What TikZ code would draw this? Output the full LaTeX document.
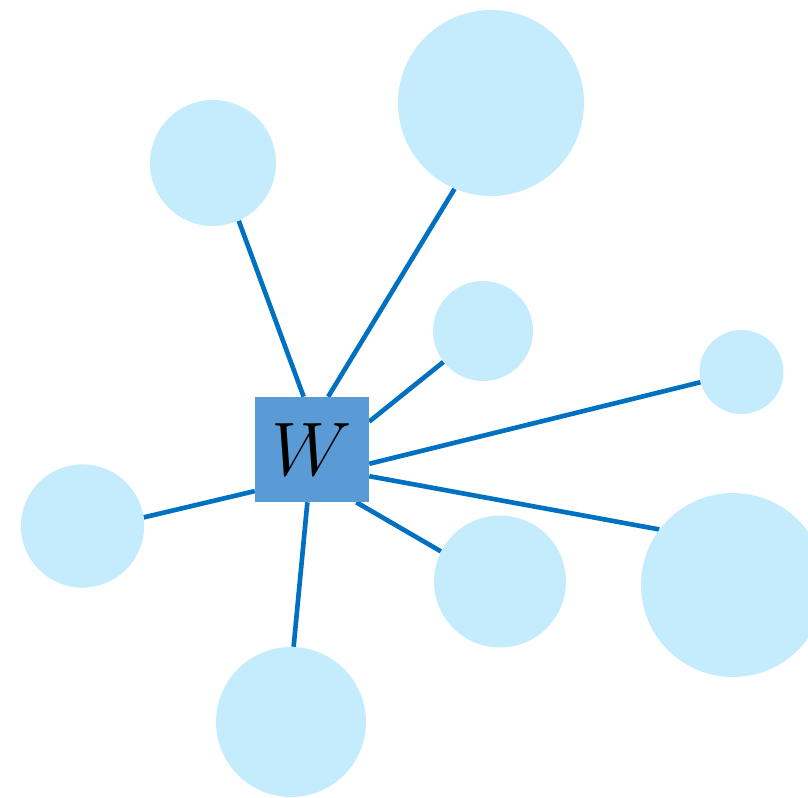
\RequirePackage{fix-cm}
\documentclass[tikz,border=0pt]{standalone}
\usetikzlibrary{backgrounds}
\definecolor{leafblue}{HTML}{C5ECFD}
\definecolor{hubblue}{HTML}{5B9BD5}
\definecolor{linkblue}{HTML}{0070C0}

\begin{document}
\begin{tikzpicture}[
  hub/.style={rectangle,fill=hubblue,minimum width=28.5mm,minimum height=26.25mm,inner sep=0pt,font=\fontsize{54}{60}\selectfont},
  leaf/.style={circle,fill=leafblue,inner sep=0pt},
  link/.style={draw=linkblue,line width=3.3pt}
]
\useasboundingbox (0,0) rectangle (20.2,19.95);
\node[hub] (w) at (7.8,8.7125) {$W$};
\node[leaf,minimum size=31.5mm] (ul)   at (5.325,15.875) {};
\node[leaf,minimum size=46.5mm] (top)  at (12.275,17.375) {};
\node[leaf,minimum size=25mm]   (mid)  at (12.075,11.675) {};
\node[leaf,minimum size=21mm]   (far)  at (18.5375,10.65) {};
\node[leaf,minimum size=30.8mm] (left) at (2.0625,6.8) {};
\node[leaf,minimum size=33mm]   (low)  at (12.5,5.4125) {};
\node[leaf,minimum size=46mm]   (big)  at (18.325,5.325) {};
\node[leaf,minimum size=37.5mm] (bot)  at (7.275,1.9) {};
% spokes go behind the nodes
\begin{scope}[on background layer]
  \foreach \a/\n/\b in {99.7/ul/294.4, 73/top/247.5, 26.6/mid/218.7, 346.7/far/194.8,
                        335.9/big/143.4, 310.6/low/153.1, 265.6/bot/88.5, 216.7/left/8.5}
    \draw[link] (w.\a) -- (\n.\b);
\end{scope}
\end{tikzpicture}
\end{document}
